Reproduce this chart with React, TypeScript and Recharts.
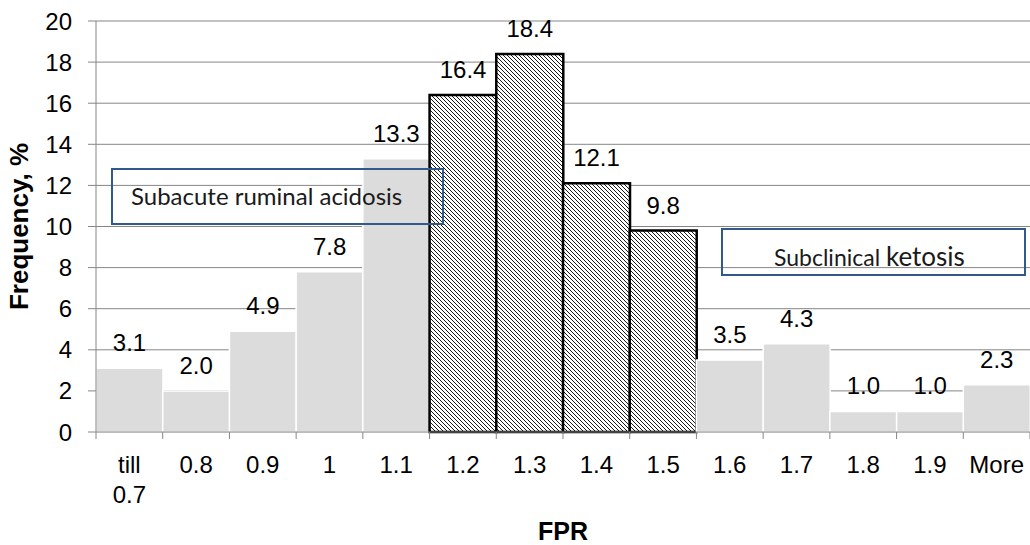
import { BarChart, Bar, XAxis, YAxis, CartesianGrid, Cell, LabelList, Label } from "recharts";

const categories = ["till 0.7", "0.8", "0.9", "1", "1.1", "1.2", "1.3", "1.4", "1.5", "1.6", "1.7", "1.8", "1.9", "More"];
const frequency = [3.1, 2.0, 4.9, 7.8, 13.3, 16.4, 18.4, 12.1, 9.8, 3.5, 4.3, 1.0, 1.0, 2.3];
const hatchedBins = ["1.2", "1.3", "1.4", "1.5"];
const yTicks = [0, 2, 4, 6, 8, 10, 12, 14, 16, 18, 20];

const data = categories.map((fpr, i) => ({ fpr, freq: frequency[i] }));

const FONT = "'Liberation Sans', Arial, sans-serif";
const GRID = "#868686";

// category label plus Excel-style tick marks on the bin edges
function CatTick(props: any) {
  const { x, y, payload, index, visibleTicksCount } = props;
  const half = payload.offset || 0;
  const lines = String(payload.value).split(" ");
  return (
    <g>
      <line x1={x - half} x2={x - half} y1={y} y2={y + 7} stroke={GRID} />
      {index === visibleTicksCount - 1 && <line x1={x + half} x2={x + half} y1={y} y2={y + 7} stroke={GRID} />}
      <text x={x} y={y + 41} textAnchor="middle" fill="#000" fontSize={24} fontFamily={FONT}>
        {lines.map((l, i) => (
          <tspan key={i} x={x} dy={i === 0 ? 0 : 30}>
            {l}
          </tspan>
        ))}
      </text>
    </g>
  );
}

export default function App() {
  return (
    <div style={{ position: "absolute", left: 0, top: 0, width: 1030, height: 545, background: "#fff" }}>
      <svg width={0} height={0} style={{ position: "absolute" }}>
        <defs>
          <pattern id="hatch" patternUnits="userSpaceOnUse" width={4} height={4}>
            <rect width={4} height={4} fill="#fff" />
            <path d="M0,0 L4,4 M-1,3 L1,5 M3,-1 L5,1" stroke="#000" strokeWidth={0.9} />
          </pattern>
        </defs>
      </svg>
      <BarChart
        width={1030}
        height={545}
        data={data}
        margin={{ top: 21, right: 0, bottom: 0, left: 0 }}
        barCategoryGap={0}
        barGap={0}
        style={{ fontFamily: FONT }}
      >
        <CartesianGrid vertical={false} stroke={GRID} />
        <XAxis
          dataKey="fpr"
          height={113}
          stroke={GRID}
          tickLine={false}
          tickSize={0}
          tickMargin={0}
          interval={0}
          tick={<CatTick />}
        >
          <Label
            content={(p: any) => {
              const vb = p.viewBox;
              return (
                <text x={vb.x + vb.width / 2} y={vb.y + 108} textAnchor="middle" fontWeight="bold" fontSize={25} fill="#000" fontFamily={FONT}>
                  FPR
                </text>
              );
            }}
          />
        </XAxis>
        <YAxis
          width={96}
          domain={[0, 20]}
          ticks={yTicks}
          tickSize={8}
          tickMargin={16}
          stroke={GRID}
          tick={{ fill: "#000", fontSize: 24, fontFamily: FONT }}
        >
          <Label
            content={(p: any) => {
              const vb = p.viewBox;
              const cy = vb.y + vb.height / 2;
              return (
                <text x={28} y={cy} transform={`rotate(-90, 28, ${cy})`} textAnchor="middle" fontWeight="bold" fontSize={26} fill="#000" fontFamily={FONT}>
                  Frequency, %
                </text>
              );
            }}
          />
        </YAxis>
        <Bar dataKey="freq" isAnimationActive={false}>
          {data.map((d) =>
            hatchedBins.includes(d.fpr) ? (
              <Cell key={d.fpr} fill="url(#hatch)" stroke="#000" strokeWidth={2.5} />
            ) : (
              <Cell key={d.fpr} fill="#DCDCDC" stroke="#fff" strokeWidth={1.5} />
            )
          )}
          <LabelList
            dataKey="freq"
            position="top"
            offset={17}
            formatter={(v: any) => Number(v).toFixed(1)}
            fill="#000"
            fontSize={24}
            fontFamily={FONT}
          />
        </Bar>
      </BarChart>
      <svg width={1030} height={545} style={{ position: "absolute", left: 0, top: 0, pointerEvents: "none" }}>
        <rect x={112} y={169} width={331} height={55} fill="none" stroke="#31598C" strokeWidth={2} />
        <text x={131} y={205} fontFamily="Lato, sans-serif" fontSize={24} fill="#1a1a1a">
          Subacute ruminal acidosis
        </text>
        <rect x={722} y={229} width={303} height={46} fill="none" stroke="#31598C" strokeWidth={2} />
        <text x={774} y={266} fontFamily="Lato, sans-serif" fontSize={23} fill="#1a1a1a">
          Subclinical <tspan fontSize={26}>ketosis</tspan>
        </text>
      </svg>
    </div>
  );
}
